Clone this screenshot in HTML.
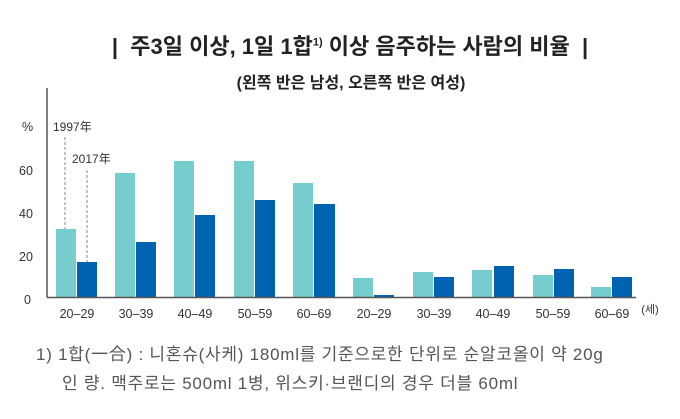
<!DOCTYPE html><html><head><meta charset="utf-8"><style>
body{margin:0;width:680px;height:419px;background:#fff;font-family:"Liberation Sans","Noto Sans CJK KR",sans-serif;color:#333;overflow:hidden}
.a{position:absolute;white-space:nowrap}
</style></head><body>
<div class="a" style="left:10px;width:680px;top:29px;text-align:center;font-size:22px;font-weight:bold;color:#222">|&nbsp; 주3일 이상, 1일 1합<sup style="font-size:11px">1)</sup> 이상 음주하는 사람의 비율 &nbsp;|</div>
<div class="a" style="left:0;width:702px;top:69px;text-align:center;font-size:16px;font-weight:bold;color:#222">(왼쪽 반은 남성, 오른쪽 반은 여성)</div>
<svg class="a" style="left:0;top:0" width="680" height="419">
<g font-family="Liberation Sans, Noto Sans CJK KR, sans-serif" font-size="12.5" fill="#333">
<text x="22" y="131">%</text>
<text x="19" y="175">60</text><text x="19" y="218">40</text><text x="19" y="261">20</text><text x="24" y="304">0</text>
<text x="53" y="131" font-size="12">1997年</text><text x="72" y="163" font-size="12">2017年</text>
</g>
<line x1="65" y1="137" x2="65" y2="229" stroke="#888" stroke-dasharray="3,2"/>
<line x1="87" y1="170" x2="87" y2="262" stroke="#888" stroke-dasharray="3,2"/>
<g fill="#77cccd">
<rect x="56" y="229" width="20" height="68"/><rect x="115" y="173" width="20" height="124"/><rect x="174" y="161" width="20" height="136"/><rect x="234" y="161" width="20" height="136"/><rect x="293" y="183" width="20" height="114"/>
<rect x="353" y="278" width="20" height="19"/><rect x="413" y="272" width="20" height="25"/><rect x="472" y="270" width="20" height="27"/><rect x="533" y="275" width="20" height="22"/><rect x="591" y="287" width="20" height="10"/>
</g>
<g fill="#0063b1">
<rect x="77" y="262" width="20" height="35"/><rect x="136" y="242" width="20" height="55"/><rect x="195" y="215" width="20" height="82"/><rect x="255" y="200" width="20" height="97"/><rect x="314" y="204" width="21" height="93"/>
<rect x="374" y="295" width="20" height="2"/><rect x="434" y="277" width="20" height="20"/><rect x="494" y="266" width="20" height="31"/><rect x="554" y="269" width="20" height="28"/><rect x="612" y="277" width="20" height="20"/>
</g>
<line x1="47" y1="88" x2="47" y2="297.5" stroke="#555" stroke-width="1.5"/>
<line x1="47" y1="297.5" x2="636" y2="297.5" stroke="#555" stroke-width="1.5"/>
<g font-family="Liberation Sans, Noto Sans CJK KR, sans-serif" font-size="12.5" fill="#333" text-anchor="middle">
<text x="77" y="318">20–29</text><text x="136" y="318">30–39</text><text x="195" y="318">40–49</text><text x="255" y="318">50–59</text><text x="314" y="318">60–69</text>
<text x="374" y="318">20–29</text><text x="434" y="318">30–39</text><text x="493" y="318">40–49</text><text x="553" y="318">50–59</text><text x="612" y="318">60–69</text>
<text x="650" y="313" font-size="11">(세)</text>
</g>
</svg>
<div class="a" style="left:36px;top:340px;font-size:17px;letter-spacing:0.75px;color:#555">1) 1합(一合) : 니혼슈(사케) 180ml를 기준으로한 단위로 순알코올이 약 20g</div>
<div class="a" style="left:62px;top:369px;font-size:17px;letter-spacing:0.75px;color:#555">인 량. 맥주로는 500ml 1병, 위스키·브랜디의 경우 더블 60ml</div>
</body></html>
